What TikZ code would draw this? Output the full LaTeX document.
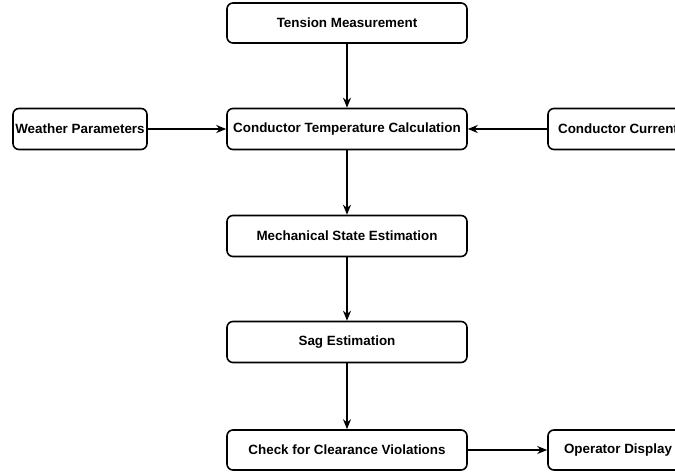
\documentclass[tikz,border=0pt]{standalone}
\usepackage{fontspec}
\setmainfont{Liberation Sans}
\usetikzlibrary{arrows.meta, positioning}

\begin{document}
\begin{tikzpicture}[x=1pt, y=-1pt,
    procbox/.style={draw=black, line width=1.6pt, rounded corners=6pt, fill=white,
      minimum width=240pt, minimum height=41pt, inner sep=0pt,
      font=\fontsize{13.4}{15}\selectfont\bfseries},
    sidebox/.style={procbox, minimum width=140pt},
    flow/.style={-{Stealth[length=10pt, width=8pt]}, line width=2pt}]
  \useasboundingbox (0,0) rectangle (675,475);
  \clip (0,0) rectangle (675,475);

  % main column
  \node[procbox, minimum height=40pt] (tension) at (347,23) {Tension Measurement};
  \node[procbox] (temp) at (347,129) {Conductor Temperature Calculation};
  \node[procbox] (mech) at (347,236) {Mechanical State Estimation};
  \node[procbox] (sag) at (347,342) {Sag Estimation};
  \node[procbox, minimum height=40pt] (check) at (347,450) {Check for Clearance Violations};

  % side inputs / outputs
  \node[sidebox, minimum width=134pt] (weather) at (80,129) {Weather Parameters};
  \node[sidebox] (current) at (618,129) {Conductor Current};
  \node[sidebox, minimum height=40pt] (display) at (618,450) {Operator Display};

  % connectors
  \draw[flow] (tension) -- (temp);
  \draw[flow] (weather) -- (temp);
  \draw[flow] (current) -- (temp);
  \draw[flow] (temp) -- (mech);
  \draw[flow] (mech) -- (sag);
  \draw[flow] (sag) -- (check);
  \draw[flow] (check) -- (display);
\end{tikzpicture}
\end{document}
